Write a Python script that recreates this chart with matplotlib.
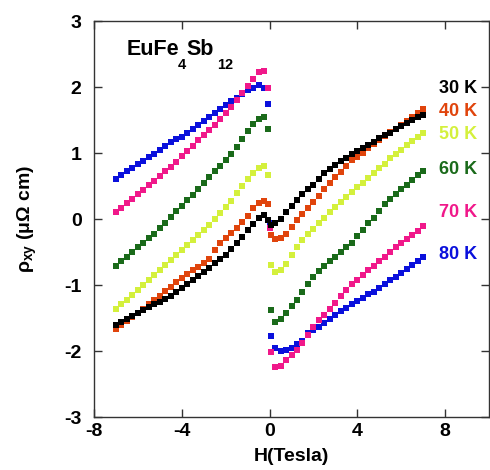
import matplotlib
matplotlib.use("Agg")
import matplotlib.pyplot as plt

plt.rcParams['font.family'] = ['Liberation Sans', 'DejaVu Sans']
plt.rcParams['font.weight'] = 'bold'
plt.rcParams['axes.unicode_minus'] = False
plt.rcParams['mathtext.fontset'] = 'custom'
plt.rcParams['mathtext.rm'] = 'Liberation Sans:bold'
plt.rcParams['mathtext.it'] = 'Liberation Sans:bold'
plt.rcParams['mathtext.bf'] = 'Liberation Sans:bold'

# Field values (Tesla)
H_neg = [-7.0, -6.75, -6.5, -6.25, -6.0, -5.75, -5.5, -5.25, -5.0, -4.75, -4.5, -4.25,
         -4.0, -3.75, -3.5, -3.25, -3.0, -2.75, -2.5, -2.25, -2.0, -1.75, -1.5, -1.25,
         -1.0, -0.75, -0.5, -0.25, -0.08]
H_pos = [0.08, 0.25, 0.5, 0.75, 1.0, 1.25, 1.5, 1.75, 2.0, 2.25, 2.5, 2.75, 3.0, 3.25,
         3.5, 3.75, 4.0, 4.25, 4.5, 4.75, 5.0, 5.25, 5.5, 5.75, 6.0, 6.25, 6.5, 6.75, 7.0]
H_zero = [0.0]

# rho_xy (micro-ohm cm), per temperature
rho_30_neg = [-1.60, -1.56, -1.51, -1.47, -1.43, -1.38, -1.34, -1.29, -1.25, -1.21, -1.16, -1.10,
              -1.04, -0.98, -0.93, -0.86, -0.80, -0.74, -0.67, -0.60, -0.54, -0.46, -0.37, -0.27,
              -0.17, -0.07, 0.02, 0.06, -0.01]
rho_30_pos = [-0.09, -0.06, 0.00, 0.10, 0.19, 0.29, 0.38, 0.45, 0.52, 0.61, 0.69, 0.76, 0.82, 0.88,
              0.93, 0.98, 1.03, 1.08, 1.12, 1.17, 1.22, 1.27, 1.31, 1.36, 1.41, 1.46, 1.50, 1.54, 1.58]

rho_40_neg = [-1.67, -1.61, -1.55, -1.48, -1.42, -1.36, -1.29, -1.22, -1.16, -1.09, -1.03, -0.96,
              -0.90, -0.83, -0.78, -0.72, -0.67, -0.60, -0.47, -0.36, -0.29, -0.21, -0.14, -0.05,
              0.05, 0.17, 0.25, 0.28, 0.23]
rho_40_pos = [-0.24, -0.30, -0.29, -0.22, -0.12, -0.02, 0.08, 0.16, 0.26, 0.35, 0.46, 0.54, 0.63, 0.71,
              0.80, 0.89, 0.94, 1.00, 1.07, 1.14, 1.20, 1.26, 1.32, 1.37, 1.43, 1.48, 1.54, 1.60, 1.66]

rho_50_neg = [-1.36, -1.29, -1.22, -1.15, -1.07, -1.00, -0.93, -0.85, -0.78, -0.70, -0.62, -0.55,
              -0.47, -0.40, -0.32, -0.24, -0.17, -0.09, 0.00, 0.09, 0.18, 0.28, 0.39, 0.50,
              0.60, 0.69, 0.77, 0.80, 0.67]
rho_50_pos = [-0.70, -0.80, -0.78, -0.68, -0.55, -0.42, -0.32, -0.23, -0.15, -0.06, 0.02, 0.10, 0.18, 0.26,
              0.33, 0.41, 0.48, 0.55, 0.62, 0.70, 0.77, 0.84, 0.92, 0.99, 1.05, 1.12, 1.18, 1.25, 1.31]

rho_60_neg = [-0.71, -0.64, -0.57, -0.50, -0.43, -0.36, -0.29, -0.22, -0.14, -0.06, 0.03, 0.12,
              0.20, 0.29, 0.37, 0.46, 0.55, 0.64, 0.72, 0.81, 0.90, 0.99, 1.09, 1.21,
              1.33, 1.44, 1.52, 1.54, 1.36]
rho_60_pos = [-1.38, -1.56, -1.52, -1.42, -1.32, -1.22, -1.11, -0.98, -0.88, -0.79, -0.71, -0.64, -0.57, -0.50,
              -0.43, -0.36, -0.25, -0.16, -0.06, 0.02, 0.12, 0.22, 0.31, 0.38, 0.45, 0.52, 0.59, 0.66, 0.72]

rho_70_neg = [0.10, 0.17, 0.24, 0.31, 0.38, 0.44, 0.51, 0.58, 0.65, 0.72, 0.79, 0.87,
              0.95, 1.03, 1.11, 1.19, 1.27, 1.35, 1.42, 1.51, 1.60, 1.70, 1.80, 1.91,
              2.02, 2.12, 2.22, 2.24, 1.98]
rho_70_pos = [-2.01, -2.24, -2.22, -2.14, -2.06, -1.99, -1.88, -1.75, -1.64, -1.53, -1.45, -1.37, -1.28, -1.17,
              -1.07, -0.99, -0.92, -0.85, -0.77, -0.71, -0.64, -0.57, -0.50, -0.43, -0.37, -0.31, -0.24, -0.18, -0.11]
rho_70_zero = [-0.14]

rho_80_neg = [0.61, 0.66, 0.72, 0.77, 0.83, 0.88, 0.94, 0.99, 1.05, 1.10, 1.16, 1.21,
              1.25, 1.30, 1.36, 1.42, 1.48, 1.54, 1.60, 1.66, 1.72, 1.79, 1.84, 1.90,
              1.95, 1.99, 2.03, 1.98, 1.75]
rho_80_pos = [-1.78, -1.95, -2.00, -1.98, -1.95, -1.90, -1.85, -1.73, -1.68, -1.63, -1.58, -1.52, -1.46, -1.40,
              -1.35, -1.29, -1.24, -1.19, -1.14, -1.10, -1.05, -0.99, -0.93, -0.88, -0.82, -0.76, -0.70, -0.64, -0.58]
rho_80_zero = [-0.06]

labels = ['30 K', '40 K', '50 K', '60 K', '70 K', '80 K']
colors = ['#000000', '#e0440c', '#d4f03c', '#1a6a1a', '#f0188a', '#0a10dc']
label_y = [1.98, 1.63, 1.28, 0.745, 0.095, -0.54]

series = [
    (rho_30_neg, rho_30_pos, None),
    (rho_40_neg, rho_40_pos, None),
    (rho_50_neg, rho_50_pos, None),
    (rho_60_neg, rho_60_pos, None),
    (rho_70_neg, rho_70_pos, rho_70_zero),
    (rho_80_neg, rho_80_pos, rho_80_zero),
]

fig = plt.figure(figsize=(4.9, 4.7), dpi=100)
ax = fig.add_axes([94 / 490, 53 / 470, 395 / 490, 396 / 470])

# draw from 80 K down to 30 K so 30 K sits on top
for idx in [5, 4, 3, 2, 1, 0]:
    neg, pos, zero = series[idx]
    c = colors[idx]
    kw = dict(marker='s', ms=3.9, mew=0, linestyle='none', color=c)
    ax.plot(H_neg, neg, **kw)
    ax.plot(H_pos, pos, **kw)
    if zero is not None:
        ax.plot(H_zero, zero, **kw)

for lab, c, yy in zip(labels, colors, label_y):
    ax.text(9.45, yy, lab, color=c, ha='right', va='center', fontsize=13, fontweight='bold')

# compound name with low subscripts
ax.text(-6.5, 2.48, 'EuFe', fontsize=15.5, fontweight='bold', ha='left', va='baseline')
ax.text(-4.18, 2.28, '4', fontsize=10.5, fontweight='bold', ha='left', va='baseline')
ax.text(-3.77, 2.48, 'Sb', fontsize=15.5, fontweight='bold', ha='left', va='baseline')
ax.text(-2.41, 2.28, '12', fontsize=10.5, fontweight='bold', ha='left', va='baseline')

ax.set_xlim(-8, 10)
ax.set_ylim(-3, 3)
ax.set_xticks([-8, -4, 0, 4, 8])
ax.set_yticks([-3, -2, -1, 0, 1, 2, 3])
ax.tick_params(direction='in', length=6, width=1, top=True, right=True,
               labelsize=14, color='#333333')
ax.tick_params(axis='x', pad=4)
ax.tick_params(axis='y', pad=9)
for lbl in ax.get_xticklabels() + ax.get_yticklabels():
    lbl.set_fontweight('bold')
for s in ax.spines.values():
    s.set_linewidth(1.0)
    s.set_color('#333333')

ax.set_xlabel('H(Tesla)', fontsize=14, fontweight='bold', labelpad=6)
ax.set_ylabel(r'$\rho_{xy}$ (μΩ cm)', fontsize=14, fontweight='bold', labelpad=18)

fig.savefig('out.png', dpi=100)
